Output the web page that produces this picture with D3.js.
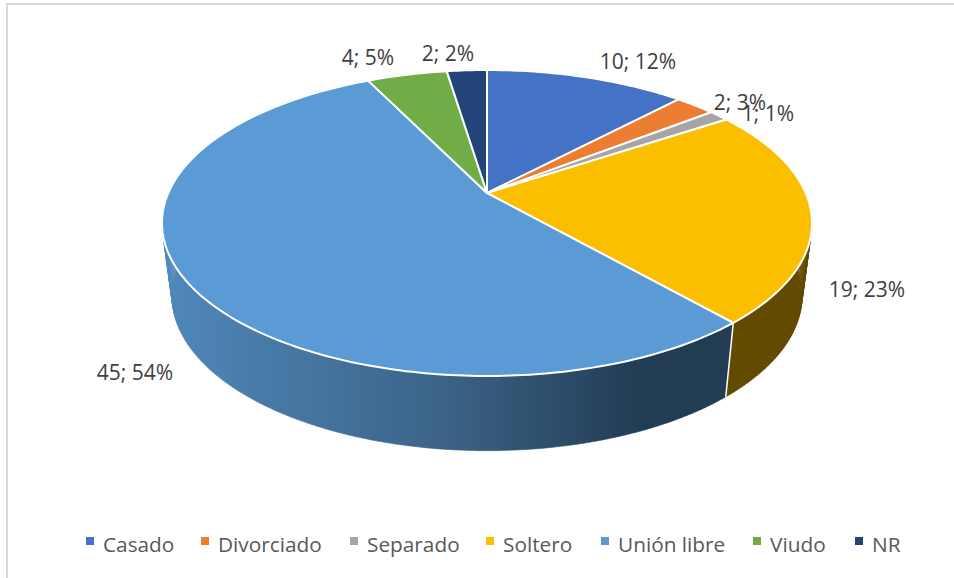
<!DOCTYPE html>
<html>
<head>
<meta charset="utf-8">
<script src="https://cdn.jsdelivr.net/npm/d3@7"></script>
<style>
  body { margin: 0; background: #fff; }
  text { font-family: "Open Sans", sans-serif; }
</style>
</head>
<body>
<div id="chart"></div>
<script>
var categories = ['Casado', 'Divorciado', 'Separado', 'Soltero', 'Unión libre', 'Viudo', 'NR'];
var counts = [10, 2, 1, 19, 45, 4, 2];
var percents = [12, 3, 1, 23, 54, 5, 2];
var colors = ['#4472c4', '#ed7d31', '#a5a5a5', '#fbbf00', '#5b9bd5', '#70ad47', '#234478'];
var sideColors = ['#29446f', '#8c4a1c', '#636363', '#634b00', '#5b9bd5', '#43682b', '#152847'];

var width = 954;
var height = 578;

var svg = d3.select('#chart')
  .append('svg')
  .attr('width', width)
  .attr('height', height);

// gray frame, only the top and left edges show in the crop
svg.append('path')
  .attr('d', 'M7,' + height + 'V4H' + width)
  .attr('fill', 'none')
  .attr('stroke', '#d9d9d9')
  .attr('stroke-width', 2);

// the pie is tilted, so the rim is a projected circle and the center sits above the ellipse middle
var k = 0.196;
function project(a, rim) {
  var u = Math.sin(a);
  var v = Math.cos(a);
  var w = 1 + k * v;
  return [rim.x + rim.a * u / w, rim.y - rim.b * v / w];
}
var topRim = { x: 487, y: 193, a: 318.7, b: 147.1 };
var bottomRim = { x: 487, y: 265.4, a: 309, b: 149 };

var arcs = d3.pie().sort(null)(counts);

function sweep(d) {
  var n = Math.ceil((d.endAngle - d.startAngle) * 60) + 1;
  return d3.range(n + 1).map(function (i) {
    return d.startAngle + (d.endAngle - d.startAngle) * i / n;
  });
}

function rimPoints(d, rim) {
  return sweep(d).map(function (a) { return project(a, rim); });
}

var line = d3.line();

// horizontal shading of the big slice wall
var grad = svg.append('defs').append('linearGradient')
  .attr('id', 'wall')
  .attr('gradientUnits', 'userSpaceOnUse')
  .attr('x1', 162).attr('x2', 726)
  .attr('y1', 0).attr('y2', 0);
grad.append('stop').attr('offset', 0).attr('stop-color', '#5088bb');
grad.append('stop').attr('offset', 0.5).attr('stop-color', '#3b6387');
grad.append('stop').attr('offset', 0.85).attr('stop-color', '#223c54');
grad.append('stop').attr('offset', 1).attr('stop-color', '#223c54');

// walls first, built from small quads so the side silhouette stays straight
svg.selectAll('.wall')
  .data(arcs)
  .enter()
  .append('path')
  .attr('class', 'wall')
  .attr('d', function (d) {
    var angles = sweep(d);
    return d3.pairs(angles).map(function (p) {
      return line([
        project(p[0], topRim), project(p[1], topRim),
        project(p[1], bottomRim), project(p[0], bottomRim)
      ]) + 'Z';
    }).join('');
  })
  .attr('fill', function (d, i) { return i == 4 ? 'url(#wall)' : sideColors[i]; })
  .attr('stroke', function (d, i) { return i == 4 ? 'url(#wall)' : sideColors[i]; })
  .attr('stroke-width', 0.5);

// seam between the two walls that face the viewer
svg.append('path')
  .attr('d', line([project(arcs[3].endAngle, topRim), project(arcs[3].endAngle, bottomRim)]))
  .attr('stroke', '#fff')
  .attr('stroke-width', 1.5);

// top face
svg.selectAll('.slice')
  .data(arcs)
  .enter()
  .append('path')
  .attr('class', 'slice')
  .attr('d', function (d) {
    var pts = [[topRim.x, topRim.y]].concat(rimPoints(d, topRim));
    return line(pts) + 'Z';
  })
  .attr('fill', function (d, i) { return colors[i]; })
  .attr('stroke', '#fff')
  .attr('stroke-width', 2)
  .attr('stroke-linejoin', 'round');

// data labels, anchored by hand where Excel placed them
var labelX = [638, 740, 768, 867, 135, 368, 448];
var labelY = [69, 110, 121, 297, 380, 65, 61];
svg.selectAll('.label')
  .data(categories)
  .enter()
  .append('text')
  .attr('class', 'label')
  .attr('x', function (d, i) { return labelX[i]; })
  .attr('y', function (d, i) { return labelY[i]; })
  .attr('text-anchor', 'middle')
  .attr('font-size', 21)
  .attr('fill', '#404040')
  .text(function (d, i) { return counts[i] + '; ' + percents[i] + '%'; });

// legend
var legendX = [86, 201, 350, 486, 601, 753, 855];
svg.selectAll('.swatch')
  .data(categories)
  .enter()
  .append('rect')
  .attr('class', 'swatch')
  .attr('x', function (d, i) { return legendX[i]; })
  .attr('y', 537)
  .attr('width', 8)
  .attr('height', 8)
  .attr('fill', function (d, i) { return colors[i]; });

svg.selectAll('.legend')
  .data(categories)
  .enter()
  .append('text')
  .attr('class', 'legend')
  .attr('x', function (d, i) { return legendX[i] + 17; })
  .attr('y', 552)
  .attr('font-size', 20.8)
  .attr('fill', '#595959')
  .text(function (d) { return d; });
</script>
</body>
</html>
